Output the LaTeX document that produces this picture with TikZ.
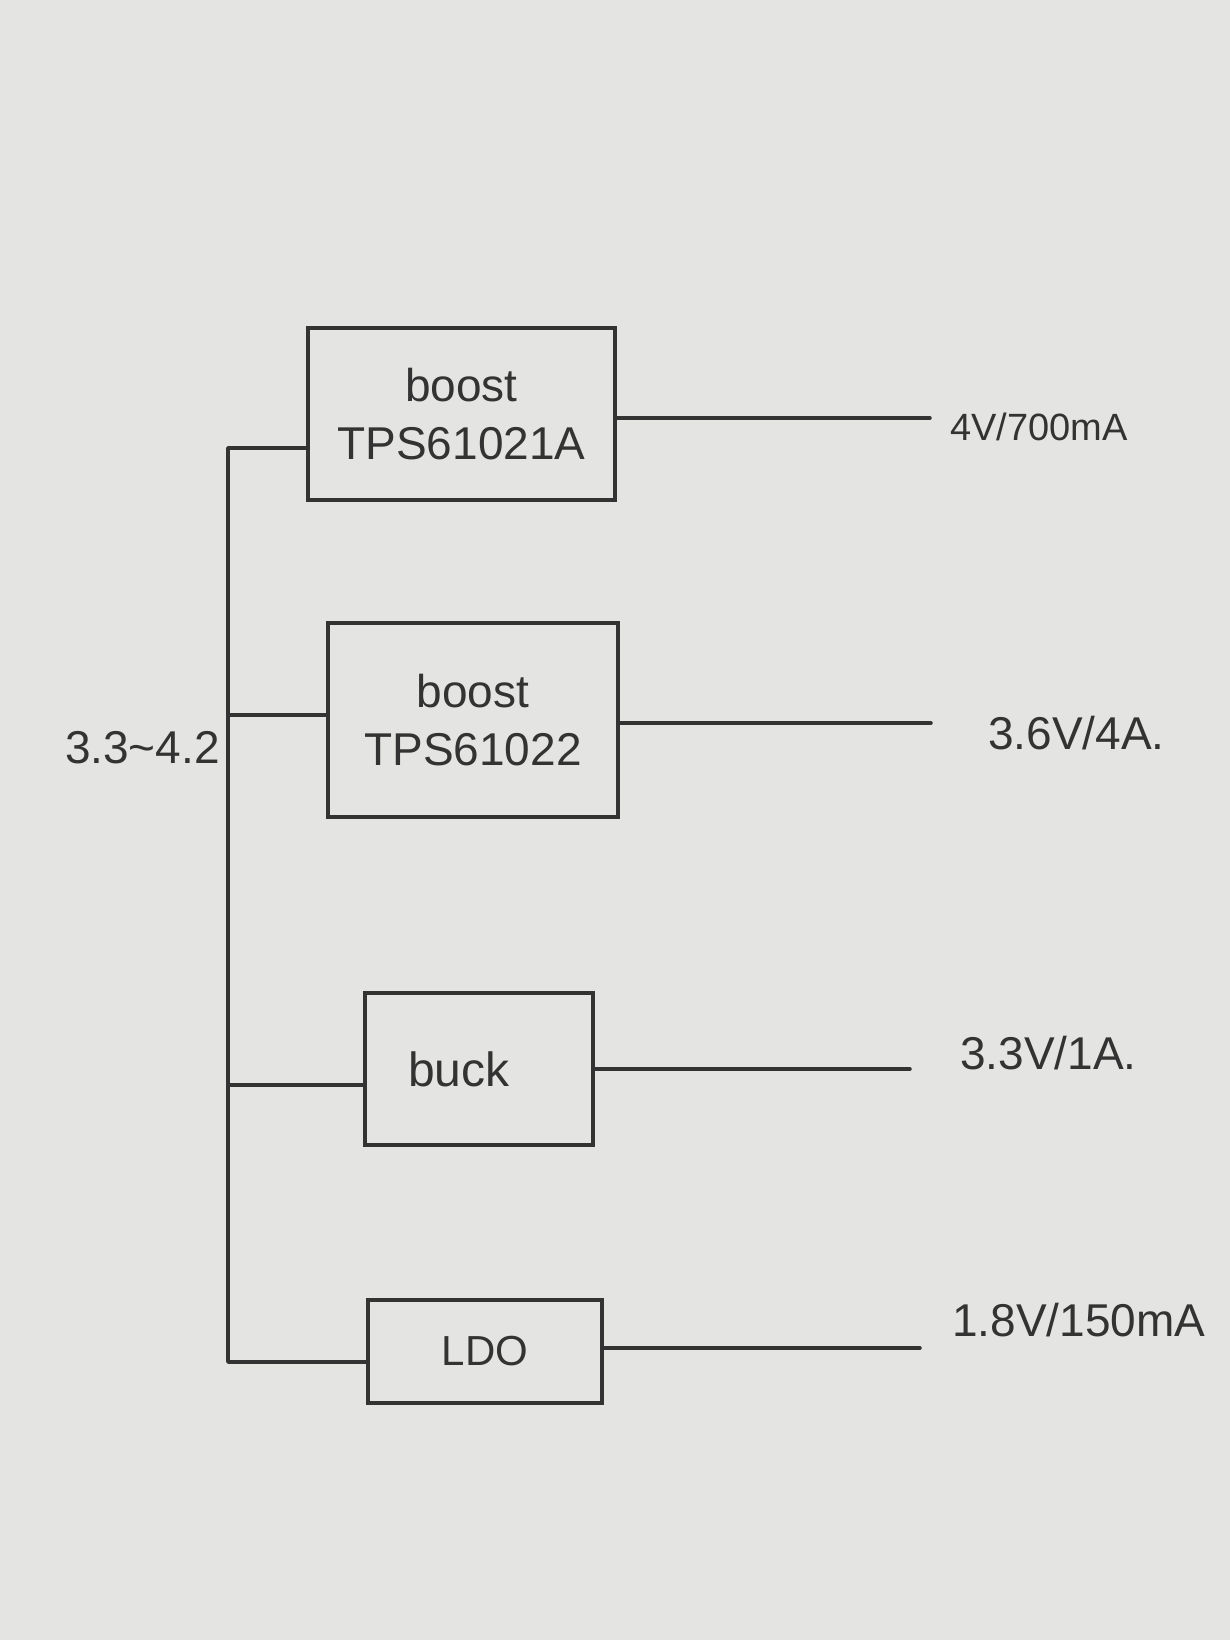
\documentclass[tikz,border=0pt]{standalone}
\usepackage{fontspec}
\setmainfont{Liberation Sans}
\definecolor{paper}{HTML}{E4E4E2}
\definecolor{pen}{HTML}{333333}
\tikzset{
  blk/.style={draw=pen, line width=3.5pt, rectangle, inner sep=0pt, align=center,
    text=pen, font=\fontsize{46}{58}\selectfont},
  wire/.style={draw=pen, line width=3.5pt, line cap=round, line join=round},
  outlbl/.style={anchor=west, inner sep=0pt, text=pen, font=\fontsize{46}{52}\selectfont},
}
\begin{document}
\begin{tikzpicture}[x=1pt,y=-1pt]
\fill[paper] (0,0) rectangle (1230,1640);
\useasboundingbox (0,0) rectangle (1230,1640);

% blocks
\node[blk, minimum width=307pt, minimum height=172pt] (b1) at (461.5,414) {boost\\TPS61021A};
\node[blk, minimum width=290pt, minimum height=194pt] (b2) at (473,720) {boost\\TPS61022};
\node[blk, minimum width=228pt, minimum height=152pt, font=\fontsize{48}{56}\selectfont] (b3) at (479,1069) {\hspace*{-40pt}buck};
\node[blk, minimum width=234pt, minimum height=103pt, font=\fontsize{42}{50}\selectfont] (b4) at (485,1351.5) {LDO};

% output labels
\node[outlbl, font=\fontsize{38}{46}\selectfont] (l1) at (950,427) {4V/700mA};
\node[outlbl] (l2) at (988,733) {3.6V/4A.};
\node[outlbl] (l3) at (960,1053) {3.3V/1A.};
\node[outlbl] (l4) at (952,1320) {1.8V/150mA};

% input label
\node[anchor=east, inner sep=0pt, text=pen, font=\fontsize{46}{52}\selectfont] (vin) at (220,748) {3.3\textasciitilde 4.2};

% output wire ends
\coordinate (o1) at (930,418);
\coordinate (o2) at (931,723);
\coordinate (o3) at (910,1069);
\coordinate (o4) at (920,1348);

\draw[wire] (b1.east |- o1) -- (o1);
\draw[wire] (b2.east |- o2) -- (o2);
\draw[wire] (b3.east |- o3) -- (o3);
\draw[wire] (b4.east |- o4) -- (o4);

% input bus
\coordinate (t1) at (228,448);
\coordinate (t2) at (228,715);
\coordinate (t3) at (228,1085);
\coordinate (t4) at (228,1362);

\draw[wire] (b1.west |- t1) -- (t1) -- (t4) -- (b4.west |- t4);
\draw[wire] (t2) -- (b2.west |- t2);
\draw[wire] (t3) -- (b3.west |- t3);
\end{tikzpicture}
\end{document}
